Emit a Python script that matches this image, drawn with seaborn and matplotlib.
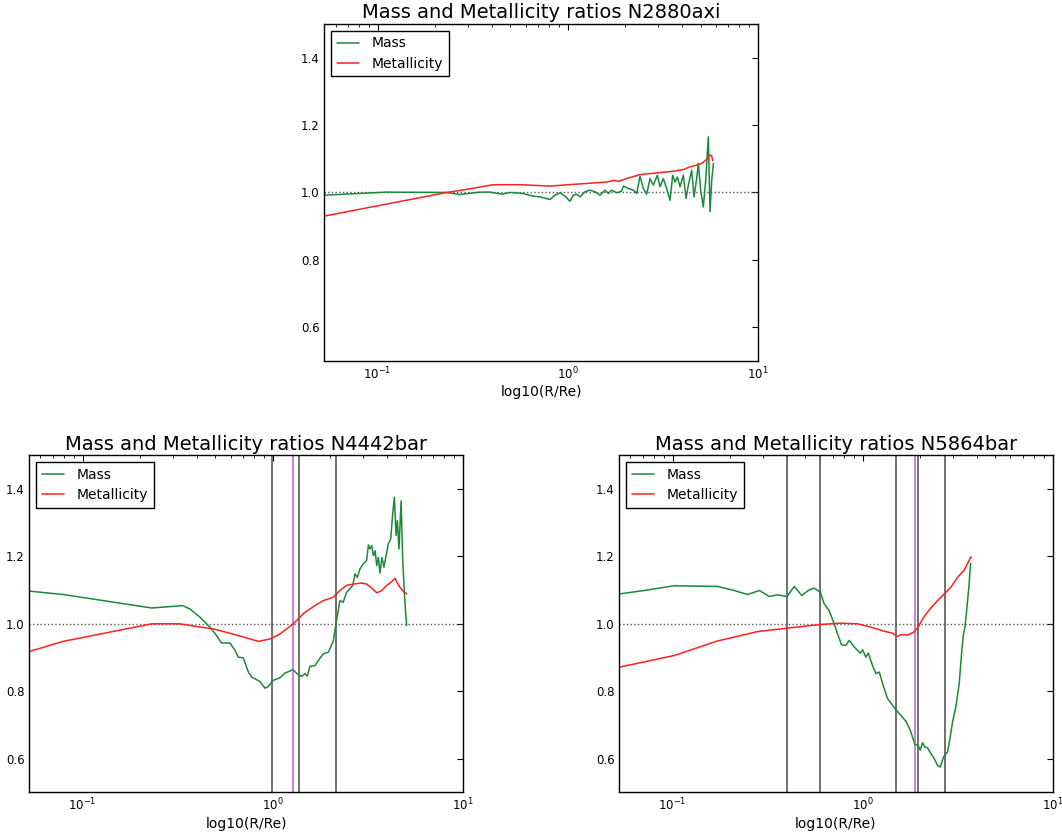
import numpy as np
import pandas as pd
import seaborn as sns
import matplotlib
matplotlib.use('Agg')
import matplotlib.pyplot as plt

# ---- N2880axi ----
n2880_mass_r = [0.0524, 0.111, 0.231, 0.271, 0.345, 0.39, 0.45, 0.497, 0.582, 0.659,
                0.715, 0.807, 0.857, 0.912, 0.969, 1.028, 1.071, 1.115, 1.161, 1.233,
                1.310, 1.392, 1.479, 1.572, 1.637, 1.703, 1.810, 1.923, 1.963, 2.086,
                2.216, 2.307, 2.401, 2.500, 2.604, 2.711, 2.823, 2.963, 3.060, 3.186,
                3.317, 3.454, 3.569, 3.672, 3.778, 3.899, 4.060, 4.193, 4.314, 4.491,
                4.621, 4.771, 4.868, 5.009, 5.172, 5.322, 5.495, 5.609, 5.725, 5.844]
n2880_mass = [0.992, 1.001, 1.000, 0.994, 1.001, 1.001, 0.995, 1.000, 0.997, 0.989,
              0.987, 0.979, 0.992, 0.999, 0.989, 0.974, 0.992, 0.995, 0.987, 1.002,
              1.007, 1.002, 0.992, 1.007, 0.997, 1.007, 0.999, 1.004, 1.019, 1.012,
              1.007, 0.997, 1.048, 1.012, 0.995, 1.041, 1.022, 1.051, 1.017, 1.041,
              1.012, 0.977, 1.051, 1.031, 1.046, 1.017, 1.051, 0.982, 1.022, 1.066,
              0.987, 1.041, 1.086, 1.007, 0.957, 1.036, 1.165, 0.943, 1.036, 1.086]
n2880_metal_r = [0.0524, 0.231, 0.30, 0.405, 0.561, 0.807, 1.071, 1.604, 1.75, 1.85,
                 2.035, 2.40, 2.71, 3.06, 3.60, 4.06, 4.40, 4.78, 5.07, 5.38, 5.61,
                 5.73, 5.80]
n2880_metal = [0.930, 1.000, 1.010, 1.023, 1.023, 1.019, 1.024, 1.031, 1.036, 1.033,
               1.041, 1.053, 1.056, 1.059, 1.063, 1.068, 1.076, 1.081, 1.086, 1.098,
               1.111, 1.108, 1.094]

# ---- N4442bar ----
n4442_mass_r = [0.0524, 0.079, 0.231, 0.336, 0.367, 0.414, 0.468, 0.507, 0.538, 0.596,
                0.634, 0.660, 0.700, 0.745, 0.775, 0.857, 0.911, 0.948, 1.006, 1.092,
                1.161, 1.233, 1.274, 1.364, 1.419, 1.479, 1.521, 1.571, 1.670, 1.738,
                1.846, 1.963, 2.086, 2.153, 2.26, 2.35, 2.45, 2.55, 2.64, 2.71,
                2.79, 2.88, 3.00, 3.12, 3.19, 3.25, 3.32, 3.39, 3.46, 3.53,
                3.60, 3.67, 3.76, 3.85, 3.95, 4.06, 4.18, 4.28, 4.37, 4.46,
                4.53, 4.62, 4.74, 4.83, 4.91, 4.99, 5.07]
n4442_mass = [1.097, 1.087, 1.047, 1.054, 1.044, 1.020, 0.990, 0.965, 0.943, 0.943,
              0.921, 0.901, 0.899, 0.857, 0.842, 0.829, 0.809, 0.814, 0.832, 0.840,
              0.854, 0.860, 0.864, 0.849, 0.844, 0.852, 0.845, 0.874, 0.876, 0.891,
              0.911, 0.916, 0.950, 1.000, 1.069, 1.064, 1.094, 1.104, 1.114, 1.148,
              1.138, 1.163, 1.178, 1.188, 1.234, 1.222, 1.232, 1.202, 1.217, 1.173,
              1.197, 1.151, 1.197, 1.168, 1.202, 1.237, 1.252, 1.326, 1.375, 1.262,
              1.306, 1.222, 1.365, 1.193, 1.114, 1.044, 0.995]
n4442_metal_r = [0.0524, 0.079, 0.231, 0.325, 0.398, 0.487, 0.596, 0.730, 0.840, 0.968,
                 1.092, 1.285, 1.449, 1.635, 1.846, 2.086, 2.26, 2.45, 2.66, 2.94,
                 3.12, 3.32, 3.53, 3.75, 3.98, 4.23, 4.40, 4.53, 4.68, 4.87, 5.07]
n4442_metal = [0.918, 0.948, 1.000, 1.000, 0.992, 0.985, 0.972, 0.958, 0.948, 0.955,
               0.970, 1.000, 1.030, 1.051, 1.069, 1.079, 1.099, 1.114, 1.118, 1.121,
               1.118, 1.106, 1.092, 1.099, 1.114, 1.125, 1.135, 1.121, 1.108, 1.096,
               1.089]
n4442_bars = [0.99, 1.37, 2.15]
n4442_bar_m = [1.28]

# ---- N5864bar ----
n5864_mass_r = [0.053, 0.071, 0.102, 0.172, 0.211, 0.248, 0.286, 0.323, 0.357, 0.400,
                0.437, 0.478, 0.524, 0.556, 0.598, 0.628, 0.667, 0.709, 0.738, 0.775,
                0.816, 0.851, 0.904, 0.972, 1.0, 1.040, 1.071, 1.128, 1.175, 1.224,
                1.275, 1.353, 1.439, 1.497, 1.591, 1.690, 1.782, 1.885, 1.963, 2.010,
                2.066, 2.127, 2.196, 2.286, 2.382, 2.479, 2.561, 2.666, 2.798, 2.890,
                2.973, 3.095, 3.222, 3.316, 3.385, 3.455, 3.54, 3.624, 3.70]
n5864_mass = [1.089, 1.099, 1.113, 1.111, 1.099, 1.087, 1.099, 1.081, 1.086, 1.081,
              1.111, 1.084, 1.101, 1.106, 1.094, 1.059, 1.039, 1.000, 0.970, 0.938,
              0.936, 0.951, 0.931, 0.913, 0.923, 0.901, 0.913, 0.876, 0.852, 0.857,
              0.822, 0.778, 0.758, 0.745, 0.728, 0.711, 0.684, 0.642, 0.639, 0.625,
              0.647, 0.634, 0.632, 0.615, 0.600, 0.580, 0.575, 0.605, 0.620, 0.664,
              0.709, 0.753, 0.822, 0.911, 0.965, 0.990, 1.049, 1.109, 1.180]
n5864_metal_r = [0.053, 0.102, 0.172, 0.28, 0.398, 0.598, 0.769, 0.940, 1.106, 1.30,
                 1.439, 1.514, 1.591, 1.726, 1.855, 1.946, 2.109, 2.286, 2.479, 2.69,
                 2.917, 3.16, 3.43, 3.72]
n5864_metal = [0.872, 0.906, 0.949, 0.977, 0.987, 0.998, 1.002, 1.000, 0.990, 0.978,
               0.972, 0.962, 0.968, 0.967, 0.975, 0.988, 1.022, 1.047, 1.069, 1.089,
               1.109, 1.138, 1.160, 1.199]
n5864_bars = [0.398, 0.598, 1.496, 1.96, 2.71]
n5864_bar_m = [1.89]

panels = [
    ('N2880axi', n2880_mass_r, n2880_mass, n2880_metal_r, n2880_metal, [], []),
    ('N4442bar', n4442_mass_r, n4442_mass, n4442_metal_r, n4442_metal, n4442_bars, n4442_bar_m),
    ('N5864bar', n5864_mass_r, n5864_mass, n5864_metal_r, n5864_metal, n5864_bars, n5864_bar_m),
]

sns.set_style('white')
plt.rcParams['font.family'] = ['DejaVu Sans']
plt.rcParams['axes.edgecolor'] = 'black'
plt.rcParams['axes.linewidth'] = 1.0
plt.rcParams['text.color'] = 'black'
plt.rcParams['axes.labelcolor'] = 'black'
plt.rcParams['xtick.color'] = 'black'
plt.rcParams['ytick.color'] = 'black'

fig = plt.figure(figsize=(10.62, 8.35), dpi=100)
positions = [[0.3054, 0.5677, 0.4081, 0.4036],
             [0.0276, 0.0511, 0.4081, 0.4036],
             [0.5831, 0.0511, 0.4081, 0.4036]]

for pos, (name, mr, mv, zr, zv, bars, bar_m) in zip(positions, panels):
    ax = fig.add_axes(pos)
    ax.axhline(1.0, color='0.35', ls=':', lw=1)
    for b in bars:
        ax.axvline(b, color='0.35', lw=1.2)
    for b in bar_m:
        ax.axvline(b, color='#c070c8', lw=1.2)
    sns.lineplot(x=mr, y=mv, ax=ax, color='#1a8a3a', lw=1.1, label='Mass',
                 estimator=None, sort=False)
    sns.lineplot(x=zr, y=zv, ax=ax, color='#ff2020', lw=1.1, label='Metallicity',
                 estimator=None, sort=False)
    ax.set_xscale('log')
    ax.set_xlim(0.0524, 10)
    ax.set_ylim(0.5, 1.5)
    ax.set_yticks([0.6, 0.8, 1.0, 1.2, 1.4])
    ax.set_yticklabels(['0.6', '0.8', '1.0', '1.2', '1.4'])
    ax.tick_params(which='both', direction='in', top=True, right=True,
                   labelsize=8.5, color='black')
    ax.tick_params(which='major', length=4, width=0.8)
    ax.tick_params(which='minor', length=2, width=0.6)
    ax.set_xlabel('log10(R/Re)', fontsize=10, labelpad=2)
    ax.set_ylabel('')
    ax.set_title('Mass and Metallicity ratios ' + name, fontsize=14, pad=4)
    leg = ax.legend(loc='upper left', fontsize=10, fancybox=False, framealpha=1,
                    handlelength=1.6, handletextpad=0.9, borderaxespad=0.5,
                    labelspacing=0.45)
    leg.get_frame().set_edgecolor('black')
    leg.get_frame().set_linewidth(1.0)
    for s in ax.spines.values():
        s.set_visible(True)

fig.savefig('out.png', dpi=100)
